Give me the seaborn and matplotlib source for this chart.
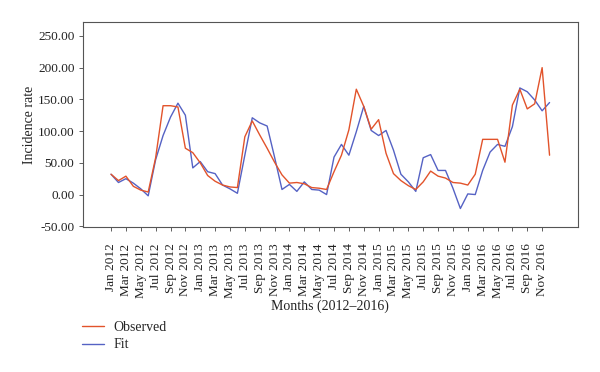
import matplotlib
matplotlib.use("Agg")
import matplotlib.pyplot as plt
import numpy as np
import pandas as pd
import seaborn as sns

month_names = ["Jan", "Feb", "Mar", "Apr", "May", "Jun",
               "Jul", "Aug", "Sep", "Oct", "Nov", "Dec"]
years = [2012, 2013, 2014, 2015, 2016]
months = [f"{m} {y}" for y in years for m in month_names]

observed = [32, 22, 29, 13, 7, 4, 58, 140, 140, 138, 73, 66,
            50, 30, 21, 15, 12, 11, 91, 116, 94, 73, 51, 31,
            18, 19, 17, 11, 10, 8, 36, 62, 102, 166, 139, 103,
            118, 65, 33, 22, 14, 8, 20, 37, 29, 26, 19, 18,
            15, 32, 87, 87, 87, 51, 141, 166, 135, 143, 200, 62]
fit = [32, 19, 25, 18, 9, -2, 55, 93, 122, 144, 125, 42,
       52, 36, 33, 15, 9, 2, 62, 121, 113, 108, 59, 8,
       16, 5, 20, 8, 7, 0, 59, 79, 62, 99, 139, 101,
       93, 101, 70, 32, 20, 5, 58, 63, 38, 38, 10, -22,
       1, 0, 38, 67, 79, 76, 107, 168, 162, 149, 132, 145]
yticks = [-50, 0, 50, 100, 150, 200, 250]

df = pd.DataFrame({"idx": np.arange(len(months)), "month": months,
                   "Observed": observed, "Fit": fit})

sns.set_style("ticks")
plt.rcParams["font.family"] = ["Liberation Serif", "DejaVu Serif"]

red = "#E2532B"
blue = "#5562C4"

fig = plt.figure(figsize=(6, 3.72), dpi=100)
ax = fig.add_axes([0.138, 0.390, 0.825, 0.551])

sns.lineplot(data=df, x="idx", y="Fit", ax=ax, color=blue, lw=1.0, label="Fit")
sns.lineplot(data=df, x="idx", y="Observed", ax=ax, color=red, lw=1.0, label="Observed")

ax.set_xlim(-3.8, 62.8)
ax.set_ylim(-51, 272)
ax.set_yticks(yticks)
ax.set_yticklabels([f"{v:.2f}" for v in yticks], fontsize=9.5, color="#222222")
ax.set_xticks(df["idx"][::2])
ax.set_xticklabels(df["month"][::2], rotation=90, fontsize=9.5, color="#222222")
ax.tick_params(axis="both", length=3, width=0.6, color="#444444")
ax.tick_params(axis="x", pad=9)
ax.tick_params(axis="y", pad=3)
ax.set_xlabel("Months (2012\u20132016)", fontsize=10, color="#222222", labelpad=1)
ax.set_ylabel("Incidence rate", fontsize=10, color="#222222", labelpad=1)
for side in ["top", "right", "left", "bottom"]:
    ax.spines[side].set_visible(True)
    ax.spines[side].set_linewidth(0.8)
    ax.spines[side].set_color("#555555")

handles, labels = ax.get_legend_handles_labels()
ax.get_legend().remove()
order = [labels.index("Observed"), labels.index("Fit")]
fig.legend([handles[i] for i in order], [labels[i] for i in order],
           loc="upper left", bbox_to_anchor=(0.115, 0.17), frameon=False,
           fontsize=10, handlelength=1.6, handletextpad=0.7, labelspacing=0.3)

fig.savefig("out.png", dpi=100)
